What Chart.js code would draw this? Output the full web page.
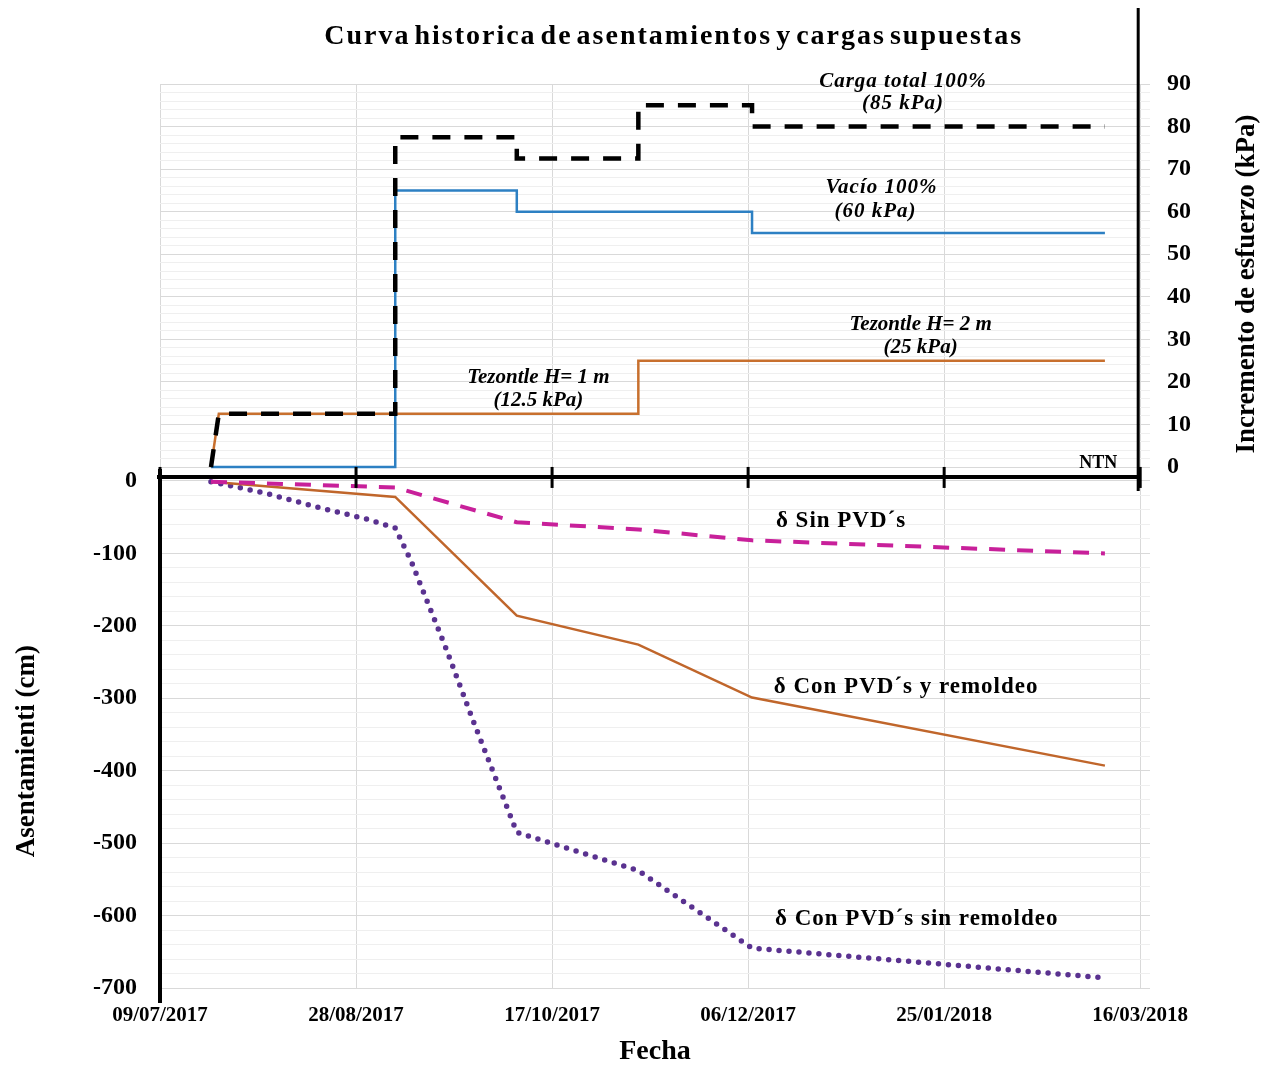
<!DOCTYPE html>
<html>
<head>
<meta charset="utf-8">
<title>Curva historica de asentamientos y cargas supuestas</title>
<script src="https://cdn.jsdelivr.net/npm/chart.js@4.4.1/dist/chart.umd.min.js"></script>
<style>
  html, body { margin: 0; padding: 0; background: #fff; }
  #contenedor { width: 1271px; height: 1066px; }
</style>
</head>
<body>
<div id="contenedor"><canvas id="grafico" width="1271" height="1066"></canvas></div>
<script>
// ---- datos ----
const etiquetasFecha = ['09/07/2017', '28/08/2017', '17/10/2017', '06/12/2017', '25/01/2018', '16/03/2018'];
const etiquetasAsent = [0, -100, -200, -300, -400, -500, -600, -700];
const etiquetasCarga = [0, 10, 20, 30, 40, 50, 60, 70, 80, 90];

// cargas (kPa, eje derecho)
const fechasCargaTotal = ['2017-07-22', '2017-07-24', '2017-09-07', '2017-09-07', '2017-10-08', '2017-10-08', '2017-11-08', '2017-11-08', '2017-12-07', '2017-12-07', '2018-03-07'];
const cargaTotal = [0, 12.5, 12.5, 77.5, 77.5, 72.5, 72.5, 85, 85, 80, 80];

const fechasVacio = ['2017-07-22', '2017-09-07', '2017-09-07', '2017-10-08', '2017-10-08', '2017-12-07', '2017-12-07', '2018-03-07'];
const vacio = [0, 0, 65, 65, 60, 60, 55, 55];

const fechasTezontle = ['2017-07-22', '2017-07-24', '2017-11-08', '2017-11-08', '2018-03-07'];
const tezontle = [0, 12.5, 12.5, 25, 25];

// asentamientos (cm, eje izquierdo)
const fechasAsent = ['2017-07-22', '2017-09-07', '2017-10-08', '2017-11-08', '2017-12-07', '2018-03-07'];
const sinPVD = [-1, -9, -57, -67, -82, -100];
const conPVDRemoldeo = [-1, -22, -186, -226, -299, -393];

const fechasSinRemoldeo = ['2017-07-22', '2017-08-05', '2017-08-18', '2017-08-31', '2017-09-07', '2017-09-11', '2017-09-20', '2017-09-27', '2017-10-08', '2017-11-08', '2017-12-07', '2018-03-07'];
const conPVDSinRemoldeo = [-1, -17, -36, -53, -65, -110, -232, -333, -485, -538, -645, -686];

// textos sobre la grafica (posicion en unidades de los ejes)
const anotaciones = [
  {texto: 'Curva historica de asentamientos y cargas supuestas', x: 131, y: 101.2, eje: 'y2', fuente: 'bold 28px "Liberation Serif"', espacio: '2px', palabras: '-5px'},
  {texto: 'Carga total 100%', x: 189.5, y: 90.6, eje: 'y2', fuente: 'italic bold 21px "Liberation Serif"', espacio: '1px'},
  {texto: '(85 kPa)', x: 189.5, y: 85.3, eje: 'y2', fuente: 'italic bold 21px "Liberation Serif"', espacio: '1px'},
  {texto: 'Vacío 100%', x: 184, y: 65.6, eje: 'y2', fuente: 'italic bold 21px "Liberation Serif"', espacio: '1px'},
  {texto: '(60 kPa)', x: 182.5, y: 60.1, eje: 'y2', fuente: 'italic bold 21px "Liberation Serif"', espacio: '1px'},
  {texto: 'Tezontle H= 2 m', x: 194, y: 33.5, eje: 'y2', fuente: 'italic bold 21px "Liberation Serif"', espacio: '0px'},
  {texto: '(25 kPa)', x: 194, y: 28, eje: 'y2', fuente: 'italic bold 21px "Liberation Serif"', espacio: '0px'},
  {texto: 'Tezontle H= 1 m', x: 96.5, y: 21, eje: 'y2', fuente: 'italic bold 21px "Liberation Serif"', espacio: '0px'},
  {texto: '(12.5 kPa)', x: 96.5, y: 15.6, eje: 'y2', fuente: 'italic bold 21px "Liberation Serif"', espacio: '0px'},
  {texto: 'NTN', x: 239.3, y: 0.8, eje: 'y2', fuente: 'bold 18px "Liberation Serif"', espacio: '0px'},
  {texto: 'δ Sin PVD´s', x: 173.7, y: -55, eje: 'y', fuente: 'bold 23px "Liberation Serif"', espacio: '1px'},
  {texto: 'δ Con PVD´s y remoldeo', x: 190.3, y: -284, eje: 'y', fuente: 'bold 23px "Liberation Serif"', espacio: '1px'},
  {texto: 'δ Con PVD´s sin remoldeo', x: 193, y: -605, eje: 'y', fuente: 'bold 23px "Liberation Serif"', espacio: '1px'}
];

// ---- utilidades ----
const diaCero = Date.UTC(2017, 6, 9);
function aDia(f) {
  const [a, m, d] = f.split('-').map(Number);
  return (Date.UTC(a, m - 1, d) - diaCero) / 86400000;
}
function etiquetaADia(e) {
  const [d, m, a] = e.split('/');
  return aDia(a + '-' + m + '-' + d);
}
function puntos(fechas, valores) {
  return fechas.map((f, i) => ({x: aDia(f), y: valores[i]}));
}
const diasTicks = etiquetasFecha.map(etiquetaADia);

const familia = '"Liberation Serif", "Times New Roman", serif';
const fuenteEje = {family: familia, weight: 'bold', size: 24};

// lineas negras de los ejes y textos
const decoracion = {
  id: 'decoracion',
  afterDatasetsDraw(chart) {
    const {ctx, chartArea} = chart;
    const xs = chart.scales.x, ys = chart.scales.y;
    const yLinea = ys.getPixelForValue(0) - 4;
    const xFin = xs.getPixelForValue(diasTicks[diasTicks.length - 1]);
    ctx.save();
    ctx.strokeStyle = '#000';
    ctx.lineCap = 'butt';
    // eje horizontal (NTN)
    ctx.lineWidth = 4;
    ctx.beginPath();
    ctx.moveTo(chartArea.left - 3, yLinea);
    ctx.lineTo(xFin, yLinea);
    ctx.stroke();
    // marcas de fechas
    ctx.lineWidth = 3;
    diasTicks.forEach(d => {
      const px = xs.getPixelForValue(d);
      ctx.beginPath();
      ctx.moveTo(px, yLinea - 10);
      ctx.lineTo(px, yLinea + 11);
      ctx.stroke();
    });
    // eje izquierdo (asentamientos)
    ctx.lineWidth = 4;
    ctx.beginPath();
    ctx.moveTo(chartArea.left, yLinea - 8);
    ctx.lineTo(chartArea.left, chartArea.bottom + 15);
    ctx.stroke();
    // eje derecho (cargas)
    ctx.lineWidth = 3;
    ctx.beginPath();
    ctx.moveTo(xFin - 2, 8);
    ctx.lineTo(xFin - 2, yLinea + 14);
    ctx.stroke();
    ctx.restore();
  },
  afterDraw(chart) {
    const {ctx, chartArea} = chart;
    const xs = chart.scales.x;
    ctx.save();
    ctx.fillStyle = '#000';
    ctx.textAlign = 'center';
    ctx.textBaseline = 'middle';
    anotaciones.forEach(a => {
      ctx.font = a.fuente;
      if ('letterSpacing' in ctx) ctx.letterSpacing = a.espacio;
      if ('wordSpacing' in ctx) ctx.wordSpacing = a.palabras || '0px';
      ctx.fillText(a.texto, xs.getPixelForValue(a.x), chart.scales[a.eje].getPixelForValue(a.y));
    });
    if ('letterSpacing' in ctx) ctx.letterSpacing = '0px';
    if ('wordSpacing' in ctx) ctx.wordSpacing = '0px';
    // titulos de ejes verticales
    ctx.font = 'bold 27px "Liberation Serif"';
    ctx.save();
    ctx.translate(chartArea.left - 133, chart.scales.y.getPixelForValue(-373));
    ctx.rotate(-Math.PI / 2);
    ctx.fillText('Asentamienti (cm)', 0, 0);
    ctx.restore();
    ctx.save();
    ctx.translate(chartArea.right + 97, chart.scales.y2.getPixelForValue(43));
    ctx.rotate(-Math.PI / 2);
    ctx.fillText('Incremento de esfuerzo (kPa)', 0, 0);
    ctx.restore();
    ctx.restore();
  }
};

const ctx = document.getElementById('grafico').getContext('2d');

new Chart(ctx, {
  type: 'line',
  data: {
    datasets: [
      {
        label: 'Carga total 100%',
        data: puntos(fechasCargaTotal, cargaTotal),
        yAxisID: 'y2',
        borderColor: '#000000',
        borderWidth: 4.5,
        borderDash: [18, 14],
      },
      {
        label: 'Vacío 100%',
        data: puntos(fechasVacio, vacio),
        yAxisID: 'y2',
        borderColor: '#2d80c3',
        borderWidth: 2.5,
      },
      {
        label: 'Tezontle',
        data: puntos(fechasTezontle, tezontle),
        yAxisID: 'y2',
        borderColor: '#c8702e',
        borderWidth: 2.5,
      },
      {
        label: 'δ Sin PVD´s',
        data: puntos(fechasAsent, sinPVD),
        yAxisID: 'y',
        borderColor: '#c8209a',
        borderWidth: 4,
        borderDash: [16, 12],
      },
      {
        label: 'δ Con PVD´s y remoldeo',
        data: puntos(fechasAsent, conPVDRemoldeo),
        yAxisID: 'y',
        borderColor: '#c0662b',
        borderWidth: 2.5,
      },
      {
        label: 'δ Con PVD´s sin remoldeo',
        data: puntos(fechasSinRemoldeo, conPVDSinRemoldeo),
        yAxisID: 'y',
        borderColor: '#5a3290',
        borderWidth: 5.5,
        borderDash: [0, 10],
        borderCapStyle: 'round',
      }
    ]
  },
  options: {
    responsive: false,
    animation: false,
    layout: {padding: {top: 84, left: 0, right: 0, bottom: 0}},
    elements: {
      point: {radius: 0, hoverRadius: 0},
      line: {tension: 0, fill: false}
    },
    plugins: {
      legend: {display: false},
      tooltip: {enabled: false},
      title: {display: false}
    },
    scales: {
      x: {
        type: 'linear',
        position: 'bottom',
        min: 0,
        max: 252.5,
        afterBuildTicks: s => { s.ticks = diasTicks.map(v => ({value: v})); },
        afterFit: s => { s.height = 78; },
        ticks: {
          autoSkip: false,
          maxRotation: 0,
          padding: 15,
          color: '#000',
          font: {family: familia, weight: 'bold', size: 21},
          callback: v => etiquetasFecha[diasTicks.indexOf(v)]
        },
        grid: {color: '#d9d9d9', drawTicks: false, lineWidth: 1},
        border: {display: false},
        title: {
          display: true,
          text: 'Fecha',
          color: '#000',
          font: {family: familia, weight: 'bold', size: 28, lineHeight: 1.0},
          padding: {top: 0, bottom: 0}
        }
      },
      y: {
        type: 'linear',
        position: 'left',
        min: -700,
        max: 548,
        afterBuildTicks: s => {
          const t = [];
          for (let v = etiquetasAsent[etiquetasAsent.length - 1]; v <= etiquetasAsent[0]; v += 20) t.push({value: v});
          s.ticks = t;
        },
        afterFit: s => { s.width = 160; },
        ticks: {
          autoSkip: false,
          padding: 23,
          color: '#000',
          font: fuenteEje,
          callback: v => etiquetasAsent.includes(v) ? String(v) : ''
        },
        grid: {
          drawTicks: false,
          color: c => (c.tick && c.tick.value % 100 === 0) ? '#d9d9d9' : '#efefef'
        },
        border: {display: false}
      },
      y2: {
        type: 'linear',
        position: 'right',
        min: -122.4,
        max: 90,
        afterBuildTicks: s => {
          const t = [];
          for (let v = etiquetasCarga[0]; v <= etiquetasCarga[etiquetasCarga.length - 1]; v += 2) t.push({value: v});
          s.ticks = t;
        },
        afterFit: s => { s.width = 121; },
        ticks: {
          autoSkip: false,
          padding: 17,
          color: '#000',
          font: fuenteEje,
          callback: v => etiquetasCarga.includes(v) ? String(v) : ''
        },
        grid: {
          drawTicks: false,
          color: c => (c.tick && c.tick.value % 10 === 0) ? '#d9d9d9' : '#efefef'
        },
        border: {display: false}
      }
    }
  },
  plugins: [decoracion]
});
</script>
</body>
</html>
